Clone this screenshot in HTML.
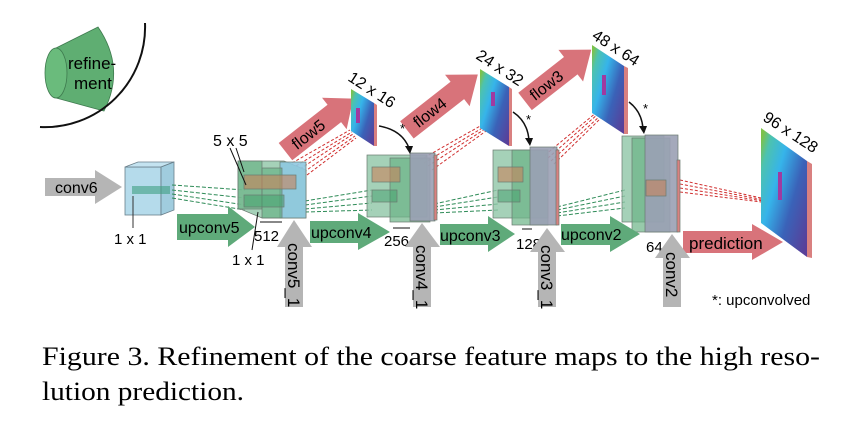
<!DOCTYPE html>
<html><head><meta charset="utf-8"><style>
html,body{margin:0;padding:0;background:#fff;}
svg{display:block;}
.s{font-family:"Liberation Sans",sans-serif;}
</style></head><body>
<svg width="857" height="438" viewBox="0 0 857 438" xmlns="http://www.w3.org/2000/svg">
<defs>
<linearGradient id="fg" x1="0" y1="0.1" x2="1" y2="0.9">
<stop offset="0" stop-color="#7cc24a"/><stop offset="0.12" stop-color="#4cc2b0"/><stop offset="0.35" stop-color="#36b4ea"/><stop offset="0.65" stop-color="#3a62b8"/><stop offset="1" stop-color="#5a3e98"/>
</linearGradient>
</defs>
<!-- refinement cone -->
<path d="M56,48 L98,27 Q126,68 104,111 L56,98 Z" fill="#5fae72" stroke="#3e7a4e" stroke-width="0.8"/>
<ellipse cx="56" cy="73" rx="11" ry="25" fill="#6abb7c" stroke="#3e7a4e" stroke-width="0.8"/>
<text class="s" x="68" y="69" font-size="17">refine-</text>
<text class="s" x="74" y="89" font-size="17">ment</text>
<path d="M40,127 A100 100 0 0 0 145,23" fill="none" stroke="#111" stroke-width="2"/>

<!-- gray arrows -->
<polygon points="45,178 95,178 95,170 122,187 95,204 95,196 45,196" fill="#b5b5b5"/>
<text class="s" x="55" y="193" font-size="16">conv6</text>

<!-- cube1 -->
<g stroke="#6a7f8a" stroke-width="0.8">
<rect x="125" y="167" width="36" height="48" fill="#9ccfe4" fill-opacity="0.75"/>
<polygon points="125,167 138,162 174,162 161,167" fill="#b5dcec" fill-opacity="0.8"/>
<polygon points="161,167 174,162 174,210 161,215" fill="#88bfd6" fill-opacity="0.8"/>
</g>
<rect x="132" y="186" width="38" height="8" fill="#3f9e82" opacity="0.6"/>
<line x1="133" y1="196" x2="133" y2="228" stroke="#333"/>
<text class="s" x="114" y="244" font-size="15">1 x 1</text>

<!-- dashed green connectors -->
<g stroke="#2e8b57" stroke-width="1" stroke-dasharray="4,2" fill="none">
<path d="M172,185 L245,190 M172,190 L245,198 M172,194 L245,205 M172,198 L245,210"/>
<path d="M305,201 L372,190 M305,205 L372,196 M305,209 L372,203 M305,212 L372,210"/>
<path d="M434,204 L498,190 M434,207 L498,197 M434,210 L498,204 M434,213 L498,210"/>
<path d="M557,207 L625,190 M557,210 L625,196 M557,213 L625,202 M557,216 L625,208"/>
</g>
<g stroke="#d03030" stroke-width="1" stroke-dasharray="3,2" fill="none">
<path d="M292,163 L350,130 M296,166 L352,132 M300,169 L353,134 M304,172 L355,136 M307,175 L356,138"/>
<path d="M420,160 L482,125 M424,163 L484,127 M428,166 L485,129 M432,170 L486,131"/>
<path d="M545,155 L597,112 M548,158 L598,114 M551,161 L600,116 M554,164 L601,118"/>
<path d="M680,180 L770,200 M680,184 L770,201 M680,188 L770,202 M680,192 L770,203"/>
</g>

<!-- block5 -->
<g stroke="#6a7a70" stroke-width="0.7">
<polygon points="238,161 284,161 306,170 306,218 262,218 238,208" fill="#8fc6a6" fill-opacity="0.8"/>
<rect x="280" y="162" width="26" height="56" fill="#8ec8e0" fill-opacity="0.9"/>
<rect x="238" y="161" width="24" height="48" fill="#6bb486" fill-opacity="0.7"/>
<rect x="262" y="168" width="20" height="50" fill="#5fae7e" fill-opacity="0.6"/>
<rect x="244" y="175" width="52" height="14" fill="#c8825a" fill-opacity="0.6"/>
<rect x="244" y="195" width="40" height="12" fill="#3f9e6a" fill-opacity="0.5"/>
</g>
<text class="s" x="213" y="146" font-size="16">5 x 5</text>
<path d="M230,148 L246,185 M236,148 L244,172" stroke="#111" fill="none"/>
<path d="M258,212 L252,250" stroke="#111"/>
<text class="s" x="232" y="265" font-size="15">1 x 1</text>
<text class="s" x="254" y="241" font-size="15">512</text>
<path d="M260,222 L282,222" stroke="#111"/>

<!-- block4 -->
<g stroke="#6a7a70" stroke-width="0.7">
<rect x="367" y="155" width="60" height="62" fill="#8fc6a6" fill-opacity="0.8"/>
<rect x="390" y="158" width="40" height="64" fill="#6bb486" fill-opacity="0.7"/>
<rect x="410" y="153" width="25" height="68" fill="#9aa0b4" fill-opacity="0.9"/>
<rect x="434" y="155" width="3" height="65" fill="#d98080"/>
<rect x="372" y="167" width="28" height="15" fill="#c8825a" fill-opacity="0.6"/>
<rect x="372" y="190" width="25" height="12" fill="#3f9e6a" fill-opacity="0.5"/>
</g>
<text class="s" x="384" y="246" font-size="15">256</text>
<path d="M393,228 L410,228" stroke="#111"/>

<!-- block3 -->
<g stroke="#6a7a70" stroke-width="0.7">
<rect x="493" y="150" width="55" height="68" fill="#8fc6a6" fill-opacity="0.8"/>
<rect x="512" y="150" width="36" height="75" fill="#6bb486" fill-opacity="0.7"/>
<rect x="530" y="147" width="27" height="78" fill="#9aa0b4" fill-opacity="0.9"/>
<rect x="556" y="150" width="3" height="75" fill="#d98080"/>
<rect x="498" y="167" width="25" height="15" fill="#c8825a" fill-opacity="0.6"/>
<rect x="498" y="190" width="22" height="12" fill="#3f9e6a" fill-opacity="0.5"/>
</g>
<text class="s" x="516" y="249" font-size="15">128</text>
<path d="M522,229 L532,229" stroke="#111"/>

<!-- block2 -->
<g stroke="#6a7a70" stroke-width="0.7">
<rect x="622" y="136" width="42" height="86" fill="#8fc6a6" fill-opacity="0.8"/>
<rect x="632" y="138" width="38" height="94" fill="#6bb486" fill-opacity="0.7"/>
<rect x="645" y="135" width="33" height="97" fill="#9aa0b4" fill-opacity="0.9"/>
<rect x="677" y="160" width="3" height="72" fill="#d98080"/>
<rect x="646" y="180" width="20" height="16" fill="#c8825a" fill-opacity="0.6"/>
</g>
<text class="s" x="646" y="252" font-size="15">64</text>

<!-- green arrows -->
<polygon points="177,214 228,214 228,206 255,227 228,247 228,240 177,240" fill="#5faa7a"/>
<text class="s" x="179" y="233" font-size="16">upconv5</text>
<polygon points="310,221 358,221 358,213 390,232 358,250 358,243 310,243" fill="#5faa7a"/>
<text class="s" x="311" y="238" font-size="16">upconv4</text>
<polygon points="440,224 488,224 488,216 515,234 488,252 488,245 440,245" fill="#5faa7a"/>
<text class="s" x="440" y="241" font-size="16">upconv3</text>
<polygon points="561,224 610,224 610,216 640,234 610,252 610,245 561,245" fill="#5faa7a"/>
<text class="s" x="561" y="240" font-size="16">upconv2</text>
<polygon points="683,231 752,231 752,224 783,242 752,260 752,253 683,253" fill="#d8737a"/>
<text class="s" x="689" y="249" font-size="17">prediction</text>

<!-- gray up arrows -->
<polygon points="277,247 294,220 312,247 303,247 303,307 285,307 285,247" fill="#b5b5b5"/>
<text class="s" font-size="17" transform="translate(288,243) rotate(90)">conv5_1</text>
<polygon points="405,247 422,223 440,247 431,247 431,307 413,307 413,247" fill="#b5b5b5"/>
<text class="s" font-size="17" transform="translate(416,245) rotate(90)">conv4_1</text>
<polygon points="530,252 547,228 565,252 556,252 556,307 538,307 538,252" fill="#b5b5b5"/>
<text class="s" font-size="17" transform="translate(541,245) rotate(90)">conv3_1</text>
<polygon points="655,258 672,234 690,258 681,258 681,307 663,307 663,258" fill="#b5b5b5"/>
<text class="s" font-size="17" transform="translate(666,252) rotate(90)">conv2</text>

<!-- red flow arrows -->
<g transform="translate(317,127) rotate(-38)">
<polygon points="-40,-11 22,-11 22,-20 46,0 22,20 22,11 -40,11" fill="#d8737a"/>
<text class="s" x="-30" y="6" font-size="16">flow5</text>
</g>
<g transform="translate(440,104) rotate(-38)">
<polygon points="-42,-11 22,-11 22,-20 48,0 22,20 22,11 -42,11" fill="#d8737a"/>
<text class="s" x="-32" y="6" font-size="16">flow4</text>
</g>
<g transform="translate(555,78) rotate(-38)">
<polygon points="-38,-11 20,-11 20,-20 46,0 20,20 20,11 -38,11" fill="#d8737a"/>
<text class="s" x="-30" y="6" font-size="16">flow3</text>
</g>

<!-- maps -->
<polygon points="351,89 374,103 374,146 351,131" fill="url(#fg)"/>
<polygon points="374,103 377,105 377,146 374,146" fill="#d98080"/>
<polygon points="480,69 509,87 509,146 480,128" fill="url(#fg)"/>
<polygon points="509,87 512,89 512,146 509,146" fill="#d98080"/>
<polygon points="592,45 624,66 624,134 592,113" fill="url(#fg)"/>
<polygon points="624,66 628,68 628,134 624,134" fill="#d98080"/>
<polygon points="761,128 807,161 807,257 761,223" fill="url(#fg)"/>
<polygon points="807,161 812,164 812,258 807,257" fill="#d98080"/>
<path d="M358,108 v15 M493,92 v14 M604,75 v20 M780,172 v28" stroke="#a03aa0" stroke-width="4"/>

<text class="s" font-size="16" transform="translate(347,80) rotate(33)">12 x 16</text>
<text class="s" font-size="16" transform="translate(475,58) rotate(33)">24 x 32</text>
<text class="s" font-size="16" transform="translate(591,38) rotate(33)">48 x 64</text>
<text class="s" font-size="16" transform="translate(762,120) rotate(33)">96 x 128</text>

<!-- curved arrows -->
<g fill="none" stroke="#111" stroke-width="1.5">
<path d="M379,126 Q402,130 409,148"/>
<path d="M513,112 Q528,122 529,141"/>
<path d="M629,102 Q642,112 643,129"/>
</g>
<g fill="#111">
<polygon points="405,146 413,146 410,154"/>
<polygon points="525,138 533,138 530,146"/>
<polygon points="639,126 647,126 644,134"/>
</g>
<text class="s" x="400" y="133" font-size="13">*</text>
<text class="s" x="526" y="124" font-size="13">*</text>
<text class="s" x="643" y="113" font-size="13">*</text>

<text class="s" x="712" y="305" font-size="15">*: upconvolved</text>

<text x="42" y="365" font-family="Liberation Serif,serif" font-size="26" textLength="778" lengthAdjust="spacingAndGlyphs">Figure 3. Refinement of the coarse feature maps to the high reso-</text>
<text x="42" y="400" font-family="Liberation Serif,serif" font-size="26" textLength="202" lengthAdjust="spacingAndGlyphs">lution prediction.</text>
</svg>
</body></html>
